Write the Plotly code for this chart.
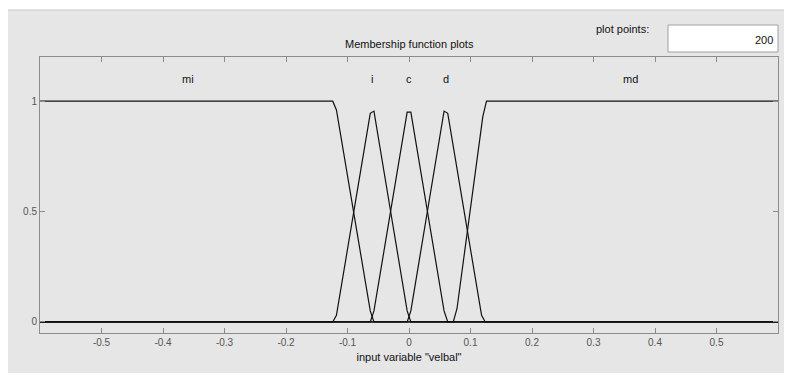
import plotly.graph_objects as go

# Membership functions (input variable "velbal")
mi_x = [-0.60, -0.124, -0.118, -0.063, -0.057, 0.60]
mi_y = [1.0, 1.0, 0.96, 0.05, 0.0, 0.0]
i_x = [-0.60, -0.124, -0.118, -0.063, -0.057, -0.003, 0.003, 0.60]
i_y = [0.0, 0.0, 0.03, 0.945, 0.955, 0.05, 0.0, 0.0]
c_x = [-0.60, -0.063, -0.057, -0.003, 0.003, 0.057, 0.063, 0.60]
c_y = [0.0, 0.0, 0.05, 0.95, 0.95, 0.05, 0.0, 0.0]
d_x = [-0.60, -0.003, 0.003, 0.057, 0.063, 0.118, 0.124, 0.60]
d_y = [0.0, 0.0, 0.05, 0.955, 0.945, 0.03, 0.0, 0.0]
md_x = [-0.60, 0.072, 0.078, 0.120, 0.126, 0.60]
md_y = [0.0, 0.0, 0.06, 0.93, 1.0, 1.0]

mf_names = ["mi", "i", "c", "d", "md"]
mf_label_x = [-0.36, -0.06, 0.0, 0.06, 0.36]
mf_label_y = 1.1

x_ticks = [-0.5, -0.4, -0.3, -0.2, -0.1, 0, 0.1, 0.2, 0.3, 0.4, 0.5]
x_tick_text = ["-0.5", "-0.4", "-0.3", "-0.2", "-0.1", "0", "0.1", "0.2", "0.3", "0.4", "0.5"]
y_ticks = [0, 0.5, 1]
y_tick_text = ["0", "0.5", "1"]
plot_points = "200"

FONT = "Liberation Sans, Arial, sans-serif"

fig = go.Figure()
for xs, ys in [(mi_x, mi_y), (i_x, i_y), (c_x, c_y), (d_x, d_y), (md_x, md_y)]:
    fig.add_trace(go.Scatter(x=xs, y=ys, mode="lines",
                             line=dict(color="#111111", width=1.2),
                             hoverinfo="skip", showlegend=False))

for name, lx in zip(mf_names, mf_label_x):
    fig.add_annotation(x=lx, y=mf_label_y, text=name, showarrow=False,
                       font=dict(family=FONT, size=11, color="#111111"))

# gray panel background
fig.add_shape(type="rect", xref="paper", yref="paper",
              x0=-33 / 738, x1=1.2, y0=-0.4, y1=1 + 47 / 276,
              fillcolor="#E6E6E6", line=dict(color="#C8C8C8", width=1),
              layer="below")

# "plot points" box
fig.add_shape(type="rect", xref="paper", yref="paper",
              x0=(668 - 40) / 738, x1=(778 - 40) / 738,
              y0=(333 - 52) / 276, y1=(333 - 25) / 276,
              fillcolor="white", line=dict(color="#A0A0A0", width=1))
fig.add_annotation(xref="paper", yref="paper", x=(775 - 40) / 738, y=(333 - 40) / 276,
                   text=plot_points, showarrow=False, xanchor="right", yanchor="middle",
                   font=dict(family=FONT, size=11, color="#111111"))
fig.add_annotation(xref="paper", yref="paper", x=(651 - 40) / 738, y=(333 - 29) / 276,
                   text="plot points:", showarrow=False, xanchor="right", yanchor="middle",
                   font=dict(family=FONT, size=11, color="#111111"))
fig.add_annotation(xref="paper", yref="paper", x=(409 - 40) / 738, y=(333 - 44) / 276,
                   text="Membership function plots", showarrow=False,
                   xanchor="center", yanchor="middle",
                   font=dict(family=FONT, size=11, color="#111111"))

fig.update_layout(
    width=784, height=365,
    margin=dict(l=32, r=14, t=49, b=40),
    paper_bgcolor="white",
    plot_bgcolor="#FAFAFA",
    font=dict(family=FONT, size=10, color="#555555"),
    xaxis=dict(range=[-0.6, 0.6], tickvals=x_ticks, ticktext=x_tick_text,
               showgrid=False, zeroline=False, showline=True, mirror="allticks",
               linecolor="#8C8C8C", linewidth=1, ticks="inside", ticklen=5,
               tickcolor="#8C8C8C",
               title=dict(text='input variable "velbal"', standoff=6,
                          font=dict(family=FONT, size=11, color="#111111"))),
    yaxis=dict(range=[-0.05, 1.2], tickvals=y_ticks, ticktext=y_tick_text,
               showgrid=False, zeroline=False, showline=True, mirror="allticks",
               linecolor="#8C8C8C", linewidth=1, ticks="inside", ticklen=5,
               tickcolor="#8C8C8C"),
)

fig.write_html("out.html")
